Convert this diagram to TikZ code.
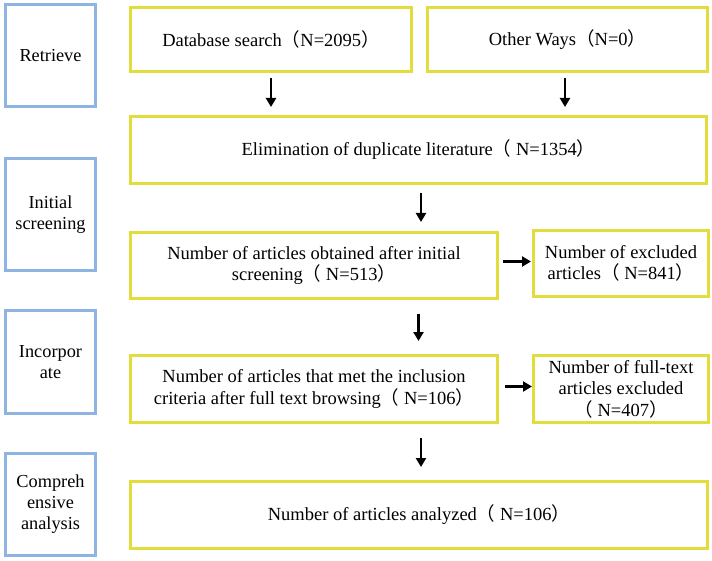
\documentclass[tikz,border=0pt]{standalone}
\usepackage{fontspec}
\setmainfont{Liberation Serif}
\newfontfamily\cjk{Noto Sans CJK SC}
\usetikzlibrary{arrows.meta}
\newcommand{\lpar}{{\cjk （}}
\newcommand{\rpar}{{\cjk ）}}
\definecolor{stageblue}{RGB}{141,180,226}
\definecolor{boxyellow}{RGB}{226,220,60}
\tikzset{
  stage/.style={draw=stageblue, line width=3pt, minimum width=90pt, align=center, inner sep=1pt,
    font=\fontsize{18.3}{21}\selectfont},
  ybox/.style={draw=boxyellow, line width=3pt, align=center, inner sep=1pt,
    font=\fontsize{18.5}{21.5}\selectfont},
  arr/.style={-{Triangle[length=9pt,width=10pt]}, line width=2.6pt, black}
}
\begin{document}
\begin{tikzpicture}[x=1pt,y=-1pt]
\useasboundingbox (0,0) rectangle (712,561);
% stage boxes
\node[stage, minimum height=102pt] (s1) at (50.5,55.5) {Retrieve};
\node[stage, minimum height=112pt] (s2) at (50.5,214.5) {Initial\\screening};
\node[stage, minimum height=103pt] (s3) at (50.5,362) {Incorpor\\ate};
\node[stage, minimum height=102pt] (s4) at (50.5,504.5) {Compreh\\ensive\\analysis};
% flow boxes
\node[ybox, minimum width=281pt, minimum height=64pt] (db) at (271,39.5) {Database search\lpar N=2095\rpar};
\node[ybox, minimum width=280pt, minimum height=64pt] (ow) at (567.5,39.5) {Other Ways\lpar N=0\rpar};
\node[ybox, minimum width=576pt, minimum height=67pt] (el) at (418.5,150) {Elimination of duplicate literature\lpar\ N=1354\rpar};
\node[ybox, minimum width=367pt, minimum height=66pt] (in) at (314,265.5) {Number of articles obtained after initial\\screening\lpar\ N=513\rpar};
\node[ybox, minimum width=175pt, minimum height=66pt] (ex1) at (621,263.5) {Number of excluded\\articles\lpar\ N=841\rpar};
\node[ybox, minimum width=367pt, minimum height=67pt] (ic) at (314,389) {Number of articles that met the inclusion\\criteria after full text browsing\lpar\ N=106\rpar};
\node[ybox, minimum width=175pt, minimum height=67pt] (ex2) at (621,389) {Number of full-text\\articles excluded\\\lpar\ N=407\rpar};
\node[ybox, minimum width=577pt, minimum height=67pt] (an) at (419,515) {Number of articles analyzed\lpar\ N=106\rpar};
% arrows
\draw[arr, shorten <=5pt, shorten >=8pt] (db.south) -- (db.south |- el.north);
\draw[arr, shorten <=5pt, shorten >=8pt] ([xshift=-2.5pt]ow.south) -- ([xshift=-2.5pt]ow.south |- el.north);
\draw[arr, shorten <=8pt, shorten >=9pt] ([xshift=2.5pt]el.south) -- ([xshift=2.5pt]el.south |- in.north);
\draw[arr, shorten <=14pt, shorten >=13pt] (el.south |- in.south) -- (el.south |- ic.north);
\draw[arr, shorten <=14pt, shorten >=13pt] ([xshift=2.5pt]el.south |- ic.south) -- ([xshift=2.5pt]el.south |- an.north);
\draw[arr, shorten <=4pt, shorten >=1pt] ([yshift=4pt]in.east) -- ([yshift=4pt]in.east -| ex1.west);
\draw[arr, shorten <=6pt, shorten >=0pt] ([yshift=2.5pt]ic.east) -- ([yshift=2.5pt]ic.east -| ex2.west);
\end{tikzpicture}
\end{document}
